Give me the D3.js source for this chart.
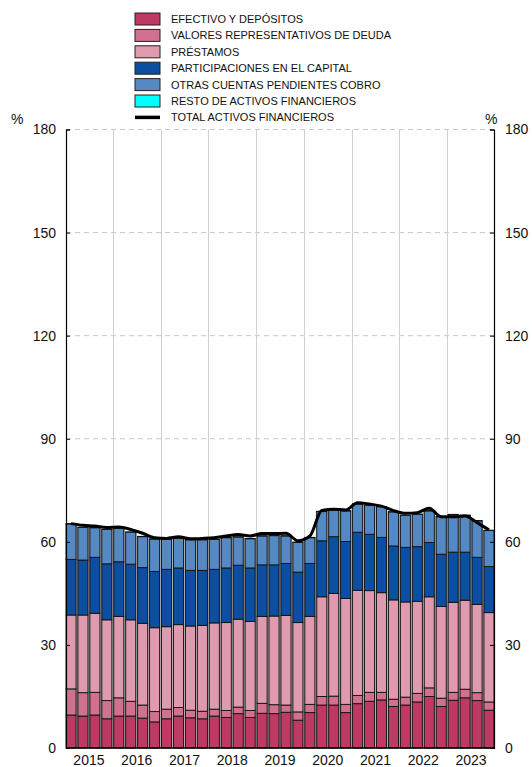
<!DOCTYPE html>
<html>
<head>
<meta charset="utf-8">
<script src="https://cdn.jsdelivr.net/npm/d3@7"></script>
<style>
  html, body { margin: 0; padding: 0; background: #fff; }
  svg { display: block; font-family: "Liberation Sans", Arial, sans-serif; }
</style>
</head>
<body>
<div id="chart"></div>
<script>
// Activos financieros (% del PIB), trimestral 2015-2023

const years = ["2015", "2016", "2017", "2018", "2019", "2020", "2021", "2022", "2023"];
const quarters = years.flatMap((y) => ["T1", "T2", "T3", "T4"].map((q) => `${y}${q}`));

const efectivo = [9.6, 9.3, 9.6, 8.5, 9.3, 9.3, 8.7, 7.6, 8.5, 9.3, 8.8, 8.5, 9.3, 8.9, 10.0, 8.9, 10.1, 10.0,
  10.4, 8.1, 10.3, 12.5, 12.5, 10.3, 12.9, 13.6, 14.0, 12.1, 12.5, 13.4, 15.0, 12.1, 13.9, 14.6, 13.8, 11.0];
const valores = [7.6, 6.8, 6.6, 5.3, 5.3, 4.3, 3.8, 3.0, 2.8, 2.5, 2.2, 2.2, 2.0, 2.0, 1.9, 2.0, 2.9, 2.6,
  2.1, 2.4, 2.4, 2.5, 2.6, 2.4, 2.4, 2.6, 2.2, 2.1, 2.3, 2.5, 2.5, 2.4, 2.3, 2.5, 2.3, 2.4];
const prestamos = [21.5, 22.6, 23.0, 23.5, 23.7, 23.7, 23.8, 24.4, 24.0, 24.1, 24.5, 25.0, 25.1, 25.6, 25.6, 25.9, 25.3, 25.8,
  26.1, 26.0, 25.6, 29.0, 29.9, 30.8, 30.6, 29.6, 29.0, 28.9, 27.7, 26.8, 26.5, 26.7, 26.2, 25.9, 25.7, 26.0];
const participaciones = [16.2, 16.0, 16.3, 16.3, 15.9, 16.2, 16.2, 16.4, 16.7, 16.5, 16.2, 16.0, 15.6, 15.9, 15.7, 15.6, 15.0, 14.9,
  15.1, 14.7, 15.4, 16.3, 16.5, 16.6, 16.9, 16.4, 16.1, 15.7, 15.9, 15.9, 15.8, 15.2, 14.6, 14.0, 13.7, 13.4];
const otras = [10.3, 9.5, 8.6, 10.0, 9.7, 9.3, 9.0, 9.4, 8.8, 8.6, 8.9, 8.9, 8.7, 8.8, 8.2, 8.5, 8.4, 8.5,
  8.0, 8.6, 7.5, 8.5, 7.8, 8.9, 8.2, 8.4, 8.9, 9.9, 9.3, 9.4, 9.2, 10.9, 10.9, 10.7, 10.6, 10.5];
const resto = [0.1, 0.1, 0.1, 0.1, 0.1, 0.1, 0.1, 0.1, 0.1, 0.1, 0.1, 0.1, 0.1, 0.1, 0.1, 0.1, 0.1, 0.1,
  0.1, 0.1, 0.1, 0.1, 0.1, 0.1, 0.1, 0.1, 0.1, 0.1, 0.1, 0.1, 0.1, 0.1, 0.1, 0.1, 0.1, 0.1];
const total = [65.3, 64.8, 64.6, 64.2, 64.3, 63.6, 62.5, 61.2, 61.0, 61.5, 60.9, 61.0, 61.2, 61.7, 62.1, 61.7, 62.4, 62.4,
  62.5, 60.3, 61.7, 69.1, 69.5, 69.3, 71.4, 71.0, 70.4, 69.1, 68.3, 68.5, 69.8, 67.3, 67.3, 67.5, 65.6, 63.5];

const yTicks = [0, 30, 60, 90, 120, 150, 180];

const series = [
  { key: "efectivo", label: "EFECTIVO Y DEPÓSITOS", color: "#be3a62", values: efectivo },
  { key: "valores", label: "VALORES REPRESENTATIVOS DE DEUDA", color: "#d2708f", values: valores },
  { key: "prestamos", label: "PRÉSTAMOS", color: "#e09ab0", values: prestamos },
  { key: "participaciones", label: "PARTICIPACIONES EN EL CAPITAL", color: "#0b4ea2", values: participaciones },
  { key: "otras", label: "OTRAS CUENTAS PENDIENTES COBRO", color: "#5589c4", values: otras },
  { key: "resto", label: "RESTO DE ACTIVOS FINANCIEROS", color: "#00ffff", values: resto },
];

const width = 532;
const height = 767;
const margin = { top: 129.5, right: 38, bottom: 19, left: 66 };

const svg = d3.select("#chart")
  .append("svg")
  .attr("width", width)
  .attr("height", height);

const tabla = quarters.map((q, i) => {
  const fila = { q };
  series.forEach((s) => { fila[s.key] = s.values[i]; });
  return fila;
});

const stack = d3.stack().keys(series.map((s) => s.key));
const capas = stack(tabla);

const x = d3.scaleBand()
  .domain(quarters)
  .range([margin.left, width - margin.right])
  .paddingInner(0.16)
  .paddingOuter(0);

const y = d3.scaleLinear()
  .domain([0, 180])
  .range([height - margin.bottom, margin.top]);

const gap = x.step() - x.bandwidth();

// rejilla horizontal
svg.append("g")
  .selectAll("line")
  .data(yTicks.filter((t) => t > 0))
  .join("line")
  .attr("x1", margin.left)
  .attr("x2", width - margin.right)
  .attr("y1", (d) => y(d))
  .attr("y2", (d) => y(d))
  .attr("stroke", "#c8c8c8")
  .attr("stroke-width", 1)
  .attr("stroke-dasharray", "5,4");

// rejilla vertical entre años
svg.append("g")
  .selectAll("line")
  .data(years.slice(1))
  .join("line")
  .attr("x1", (d) => Math.round(x(`${d}T1`) - gap / 2) + 0.5)
  .attr("x2", (d) => Math.round(x(`${d}T1`) - gap / 2) + 0.5)
  .attr("y1", y(180))
  .attr("y2", y(0))
  .attr("stroke", "#d0d0d0")
  .attr("stroke-width", 1);

// franja gris entre barras
svg.append("g")
  .selectAll("rect")
  .data(tabla)
  .join("rect")
  .attr("x", (d) => Math.max(margin.left, x(d.q) - gap / 2))
  .attr("width", (d) => x.step() - (x(d.q) - gap / 2 < margin.left ? gap / 2 : 0))
  .attr("y", (d, i) => y(d3.sum(series, (s) => s.values[i])))
  .attr("height", (d, i) => y(0) - y(d3.sum(series, (s) => s.values[i])))
  .attr("fill", "#9a9a9a");

// barras apiladas
svg.append("g")
  .selectAll("g")
  .data(capas)
  .join("g")
  .attr("fill", (d, i) => series[i].color)
  .selectAll("rect")
  .data((d) => d)
  .join("rect")
  .attr("x", (d) => x(d.data.q))
  .attr("width", x.bandwidth())
  .attr("y", (d) => y(d[1]))
  .attr("height", (d) => y(d[0]) - y(d[1]))
  .attr("stroke", "#111")
  .attr("stroke-width", 0.9);

// línea del total
const linea = d3.line()
  .x((d, i) => x(quarters[i]) + x.bandwidth() / 2)
  .y((d) => y(d))
  .curve(d3.curveMonotoneX);

svg.append("path")
  .datum(total)
  .attr("d", linea)
  .attr("fill", "none")
  .attr("stroke", "#000")
  .attr("stroke-width", 3)
  .attr("stroke-linejoin", "round");

// ejes
const ejeIzq = d3.axisLeft(y).tickValues(yTicks).tickSize(-4).tickPadding(10);
const ejeDer = d3.axisRight(y).tickValues(yTicks).tickSize(-4).tickPadding(11);

const gIzq = svg.append("g")
  .attr("transform", `translate(${margin.left},0)`)
  .call(ejeIzq);
const gDer = svg.append("g")
  .attr("transform", `translate(${width - margin.right},0)`)
  .call(ejeDer);

[gIzq, gDer].forEach((g) => {
  g.select(".domain").attr("stroke", "#000").attr("stroke-width", 1.2);
  g.selectAll(".tick line").attr("stroke", "#000");
  g.selectAll("text")
    .attr("font-size", 14)
    .attr("fill", "#111")
    .attr("font-family", "'Liberation Sans', Arial, sans-serif");
});

svg.append("text")
  .attr("x", 11)
  .attr("y", y(180) - 6)
  .attr("font-size", 14)
  .attr("fill", "#111")
  .text("%");
svg.append("text")
  .attr("x", width - margin.right - 9)
  .attr("y", y(180) - 6)
  .attr("font-size", 14)
  .attr("fill", "#111")
  .text("%");

// eje inferior
svg.append("line")
  .attr("x1", margin.left)
  .attr("x2", width - margin.right)
  .attr("y1", y(0))
  .attr("y2", y(0))
  .attr("stroke", "#000")
  .attr("stroke-width", 1.5);

svg.append("g")
  .selectAll("text")
  .data(years)
  .join("text")
  .attr("x", (d) => (x(`${d}T1`) + x(`${d}T4`) + x.bandwidth()) / 2)
  .attr("y", height - 2)
  .attr("text-anchor", "middle")
  .attr("font-size", 14)
  .attr("fill", "#111")
  .text((d) => d);

// leyenda
const leyenda = svg.append("g").attr("transform", "translate(135,13)");
const filaAlto = 16.4;

series.forEach((s, i) => {
  const fila = leyenda.append("g").attr("transform", `translate(0,${i * filaAlto})`);
  fila.append("rect")
    .attr("width", 25)
    .attr("height", 12)
    .attr("fill", s.color)
    .attr("stroke", "#222")
    .attr("stroke-width", 1);
  fila.append("text")
    .attr("x", 36)
    .attr("y", 10)
    .attr("font-size", 11)
    .attr("fill", "#111")
    .text(s.label);
});

const filaTotal = leyenda.append("g").attr("transform", `translate(0,${series.length * filaAlto})`);
filaTotal.append("line")
  .attr("x1", 0)
  .attr("x2", 25)
  .attr("y1", 6)
  .attr("y2", 6)
  .attr("stroke", "#000")
  .attr("stroke-width", 3.5);
filaTotal.append("text")
  .attr("x", 36)
  .attr("y", 10)
  .attr("font-size", 11)
  .attr("fill", "#111")
  .text("TOTAL ACTIVOS FINANCIEROS");
</script>
</body>
</html>
